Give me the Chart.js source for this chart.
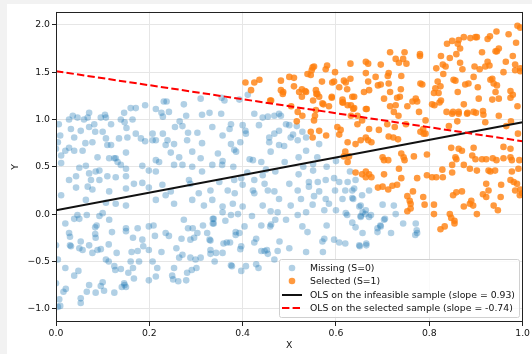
<!DOCTYPE html>
<html>
<head>
<meta charset="utf-8">
<script src="https://cdn.jsdelivr.net/npm/chart.js@4.4.0/dist/chart.umd.min.js"></script>
<style>
html, body { margin: 0; padding: 0; background: #f2f2f2; }
#wrap { position: absolute; left: 7px; top: 4px; width: 525px; height: 350px; background: #fff; }
</style>
</head>
<body>
<div id="wrap"><canvas id="chart" width="525" height="350"></canvas></div>
<script>
// values, [X, Y]
const missingPoints = [
	[0.006,0.95],[0.009,0.83],[0.004,0.76],[0.0,0.69],[0.011,0.62],[0.011,0.54],[0.028,1.0],[0.036,1.04],[0.046,1.02],[0.032,0.90],
	[0.039,0.81],[0.02,0.67],[0.028,0.70],[0.039,0.67],[0.057,0.67],[0.06,1.0],[0.071,1.07],[0.068,1.02],[0.053,0.88],[0.071,0.92],
	[0.082,0.95],[0.084,0.87],[0.063,0.75],[0.078,0.76],[0.096,1.02],[0.105,1.05],[0.107,1.02],[0.10,0.87],[0.107,0.80],[0.11,0.73],
	[0.118,0.73],[0.089,0.60],[0.114,0.59],[0.125,0.59],[0.132,0.55],[0.139,0.52],[0.118,0.95],[0.139,1.0],[0.135,0.80],[0.146,1.07],
	[0.147,0.97],[0.151,0.91],[0.153,0.81],[0.15,0.65],[0.16,1.12],[0.171,1.12],[0.164,1.0],[0.171,0.85],[0.182,0.80],[0.191,1.15],
	[0.191,0.77],[0.207,0.78],[0.214,0.78],[0.207,0.85],[0.214,1.11],[0.226,1.07],[0.231,1.19],[0.237,1.19],[0.229,1.03],[0.242,1.08],
	[0.229,0.85],[0.239,0.78],[0.235,0.73],[0.253,0.74],[0.274,1.16],[0.279,1.04],[0.265,0.98],[0.271,0.93],[0.255,0.92],[0.283,0.86],
	[0.281,0.78],[0.303,0.86],[0.31,1.22],[0.313,1.05],[0.329,1.07],[0.335,0.92],[0.313,0.75],[0.292,0.66],[0.246,0.65],[0.264,0.60],
	[0.214,0.57],[0.221,0.55],[0.185,0.51],[0.199,0.46],[0.214,0.45],[0.253,0.52],[0.271,0.52],[0.292,0.50],[0.313,0.45],[0.335,0.52],
	[0.31,0.59],[0.085,0.45],[0.093,0.46],[0.064,0.51],[0.05,0.49],[0.028,0.36],[0.043,0.40],[0.071,0.43],[0.075,0.36],[0.093,0.36],
	[0.11,0.40],[0.128,0.39],[0.15,0.48],[0.15,0.40],[0.167,0.32],[0.068,0.29],[0.078,0.26],[0.043,0.28],[0.011,0.20],[0.199,0.28],
	[0.15,0.27],[0.114,0.24],[0.064,0.15],[0.107,0.12],[0.128,0.11],[0.15,0.09],[0.214,0.15],[0.235,0.20],[0.246,0.24],[0.253,0.11],
	[0.285,0.36],[0.288,0.32],[0.306,0.22],[0.331,0.25],[0.335,0.15],[0.317,0.09],[0.292,0.15],[0.228,0.31],[0.185,0.33],[0.128,0.59],
	[0.393,1.21],[0.355,1.23],
	[0.02,-0.10],[0.039,-0.05],[0.05,-0.05],[0.046,-0.01],[0.066,-0.01],[0.093,-0.02],[0.10,0.01],[0.114,-0.06],[0.087,-0.12],[0.084,-0.14],
	[0.028,-0.20],[0.03,-0.24],[0.03,-0.33],[0.032,-0.34],[0.053,-0.29],[0.05,-0.36],[0.057,-0.38],[0.071,-0.33],[0.084,-0.21],[0.085,-0.25],
	[0.078,-0.41],[0.089,-0.38],[0.096,-0.37],[0.113,-0.32],[0.12,-0.19],[0.107,-0.48],[0.113,-0.50],[0.13,-0.41],[0.125,-0.55],[0.127,-0.59],
	[0.139,-0.58],[0.15,-0.15],[0.15,-0.18],[0.165,-0.25],[0.175,-0.15],[0.185,-0.27],[0.175,-0.39],[0.162,-0.40],[0.16,-0.50],[0.155,-0.62],
	[0.165,-0.57],[0.167,-0.68],[0.178,-0.50],[0.187,-0.34],[0.199,-0.38],[0.199,-0.13],[0.209,-0.12],[0.212,-0.23],[0.207,-0.50],[0.217,-0.57],
	[0.199,-0.70],[0.214,-0.66],[0.226,-0.40],[0.235,-0.20],[0.242,-0.23],[0.258,-0.36],[0.269,-0.26],[0.274,-0.06],[0.283,-0.15],[0.293,-0.15],
	[0.288,-0.27],[0.296,-0.25],[0.303,-0.20],[0.315,-0.12],[0.324,-0.20],[0.331,-0.28],[0.331,-0.38],[0.331,-0.42],[0.338,-0.05],[0.336,-0.10],
	[0.271,-0.43],[0.264,-0.46],[0.288,-0.46],[0.299,-0.48],[0.31,-0.46],[0.253,-0.57],[0.249,-0.65],[0.251,-0.69],[0.262,-0.71],[0.279,-0.70],
	[0.281,-0.62],[0.291,-0.59],[0.301,-0.57],[0.146,-0.73],[0.15,-0.77],[0.141,-0.77],[0.147,-0.75],[0.125,-0.83],[0.10,-0.72],[0.096,-0.76],
	[0.103,-0.81],[0.085,-0.83],[0.071,-0.75],[0.066,-0.82],[0.053,-0.89],[0.053,-0.94],[0.039,-0.65],[0.021,-0.79],[0.016,-0.82],[0.007,-0.90],
	[0.009,-0.97],[0.004,-0.98],[0.0,-0.73],[0.02,-0.57],[0.048,-0.60],[0.004,-0.48],[0.0,-0.33],
	[0.361,1.20],[0.411,1.26],[0.354,1.06],[0.375,0.95],[0.40,0.94],[0.406,0.88],[0.407,0.85],[0.425,1.06],[0.435,0.94],[0.443,1.02],
	[0.454,1.03],[0.468,1.04],[0.478,1.06],[0.482,1.04],[0.50,0.94],[0.468,0.85],[0.457,0.81],[0.478,0.88],[0.372,0.90],[0.357,0.83],
	[0.347,0.64],[0.357,0.56],[0.356,0.52],[0.35,0.34],[0.375,0.74],[0.382,0.68],[0.386,0.66],[0.395,0.76],[0.422,0.57],[0.415,0.58],
	[0.44,0.55],[0.46,0.66],[0.457,0.76],[0.478,0.73],[0.489,0.72],[0.493,0.95],[0.536,0.81],[0.536,0.67],[0.52,0.60],[0.551,0.53],
	[0.56,0.60],[0.516,0.93],[0.503,0.81],[0.443,0.41],[0.425,0.36],[0.397,0.38],[0.382,0.36],[0.368,0.25],[0.383,0.22],[0.40,0.31],
	[0.422,0.25],[0.425,0.22],[0.447,0.32],[0.454,0.25],[0.468,0.24],[0.478,0.16],[0.50,0.32],[0.518,0.25],[0.525,0.16],[0.542,0.34],
	[0.561,0.34],[0.551,0.46],[0.542,0.29],[0.564,0.24],[0.553,0.19],[0.578,0.16],[0.578,0.36],[0.596,0.38],[0.607,0.34],[0.598,0.25],
	[0.625,0.34],[0.62,0.25],[0.635,0.25],[0.637,0.16],[0.614,0.16],[0.642,0.36],[0.379,0.11],[0.357,0.08],[0.40,0.08],[0.443,0.09],
	[0.503,0.09],[0.585,0.11],[0.653,0.09],[0.656,0.20],[0.518,0.78],[0.564,0.74],[0.528,0.87],[0.508,0.84],
	[0.47,0.45],[0.52,0.42],[0.49,0.55],[0.58,0.50],[0.60,0.56],[0.53,0.50],[0.45,0.47],[0.38,0.50],[0.41,0.44],[0.63,0.45],
	[0.60,0.04],[0.55,0.10],[0.46,0.03],[0.39,0.0],
	[0.357,0.02],[0.336,-0.05],[0.338,-0.10],[0.363,-0.07],[0.375,-0.01],[0.329,-0.27],[0.343,-0.41],[0.34,-0.50],[0.357,-0.41],[0.359,-0.31],
	[0.366,-0.30],[0.373,-0.30],[0.385,-0.19],[0.385,-0.22],[0.393,-0.20],[0.397,-0.34],[0.395,-0.37],[0.404,-0.13],[0.42,-0.02],[0.425,-0.30],
	[0.429,-0.26],[0.44,-0.12],[0.44,-0.39],[0.447,-0.39],[0.454,-0.42],[0.452,-0.38],[0.459,-0.13],[0.461,-0.11],[0.47,-0.06],[0.475,0.02],
	[0.479,-0.29],[0.475,-0.39],[0.468,-0.48],[0.493,-0.06],[0.50,-0.36],[0.518,-0.01],[0.528,-0.13],[0.536,0.02],[0.539,-0.19],[0.536,-0.40],
	[0.575,0.04],[0.58,-0.12],[0.571,-0.29],[0.572,-0.40],[0.575,-0.26],[0.596,-0.27],[0.607,-0.30],[0.621,0.01],[0.624,-0.01],[0.62,-0.31],
	[0.635,-0.09],[0.642,-0.14],[0.65,-0.33],[0.653,-0.02],[0.664,0.04],[0.665,-0.33],[0.375,-0.54],[0.377,-0.55],[0.397,-0.60],[0.407,-0.55],
	[0.429,-0.53],[0.434,-0.57],
	[0.671,0.25],[0.663,0.0],[0.671,-0.03],[0.70,0.10],[0.705,-0.05],[0.724,0.09],[0.728,0.0],[0.689,-0.15],[0.695,-0.12],[0.744,-0.10],
	[0.771,-0.10],[0.773,-0.17],[0.774,-0.20],[0.77,-0.22],[0.718,-0.2],[0.696,-0.13],[0.689,-0.19],[0.665,-0.31],[0.651,-0.34],[0.657,-0.2],
	[0.703,-0.06],[0.657,0.02],[0.639,0.27],[0.635,0.17],[0.65,0.08],[0.675,-0.01],[0.653,-0.03]
]

const selectedPoints = [
	[0.461,1.20],[0.486,1.27],[0.504,1.14],[0.518,1.08],[0.528,1.04],[0.516,0.98],[0.521,1.29],[0.536,1.29],[0.56,1.27],[0.564,1.24],
	[0.573,1.16],[0.585,1.14],[0.591,1.23],[0.557,1.10],[0.555,1.04],[0.553,0.99],[0.546,0.87],[0.55,0.81],[0.564,0.88],[0.579,0.83],
	[0.603,0.92],[0.607,0.84],[0.61,0.89],[0.614,1.18],[0.625,1.15],[0.639,1.24],[0.637,1.11],[0.632,1.04],[0.646,1.04],[0.646,0.95],
	[0.656,0.99],[0.664,1.11],[0.625,0.76],[0.642,0.74],[0.653,0.78],[0.664,0.81],[0.62,0.66],[0.617,0.61],[0.628,0.61],[0.625,0.55],
	[0.642,0.44],[0.656,0.42],[0.664,0.39],[0.664,0.45],
	[0.406,1.39],[0.425,1.39],[0.436,1.42],[0.418,1.31],[0.459,1.20],[0.482,1.41],[0.482,1.31],[0.487,1.29],[0.50,1.45],[0.51,1.44],
	[0.51,1.35],[0.527,1.32],[0.534,1.30],[0.527,1.24],[0.539,1.48],[0.546,1.47],[0.55,1.55],[0.553,1.56],[0.548,1.52],[0.551,1.20],
	[0.557,1.31],[0.558,1.27],[0.57,1.40],[0.578,1.53],[0.581,1.57],[0.592,1.39],[0.596,1.40],[0.598,1.50],[0.607,1.34],[0.617,1.41],
	[0.621,1.39],[0.631,1.43],[0.631,1.59],[0.614,1.21],[0.615,1.18],[0.635,1.24],[0.632,1.15],[0.639,1.12],[0.591,1.24],[0.571,1.17],
	[0.624,1.32],
	[0.664,1.61],[0.669,1.59],[0.664,1.49],[0.669,1.40],[0.671,1.31],[0.66,1.29],[0.666,1.11],[0.685,1.45],[0.69,1.36],[0.696,1.37],
	[0.696,1.58],[0.713,1.49],[0.711,1.46],[0.716,1.71],[0.728,1.64],[0.735,1.60],[0.744,1.64],[0.747,1.71],[0.751,1.59],[0.74,1.46],
	[0.713,1.38],[0.716,1.29],[0.739,1.32],[0.731,1.23],[0.737,1.24],[0.703,1.22],[0.716,1.14],[0.728,1.15],[0.724,1.08],[0.753,1.14],
	[0.764,1.19],[0.771,1.22],[0.774,1.19],[0.778,1.08],[0.78,1.69],[0.78,1.67],[0.781,1.38],[0.785,1.37],[0.806,1.16],[0.811,1.15],
	[0.82,1.28],[0.824,1.35],[0.818,1.40],[0.815,1.54],[0.825,1.67],[0.829,1.58],[0.835,1.56],[0.83,1.48],[0.825,1.20],[0.822,1.18],
	[0.838,1.80],[0.844,1.65],[0.849,1.83],[0.852,1.42],[0.856,1.41],[0.858,1.69],[0.861,1.29],[0.863,1.84],[0.861,1.80],[0.866,1.75],
	[0.866,1.60],[0.871,1.53],[0.874,1.87],[0.877,1.37],[0.874,1.16],[0.884,1.38],[0.851,1.08],[0.837,1.08],[0.863,1.08],[0.888,1.86],
	[0.899,1.87],[0.902,1.87],[0.897,1.56],[0.895,1.45],[0.908,1.53],[0.913,1.71],[0.904,1.34],[0.906,1.22],[0.895,1.08],[0.915,1.09],
	[0.92,1.56],[0.925,1.61],[0.929,1.57],[0.925,1.85],[0.93,1.88],[0.931,1.42],[0.935,1.43],[0.938,1.38],[0.942,1.29],[0.945,1.36],
	[0.935,1.21],[0.949,1.22],[0.944,1.93],[0.945,1.72],[0.949,1.75],[0.942,1.72],[0.959,1.50],[0.964,1.61],[0.97,1.90],[0.974,1.23],
	[0.979,1.67],[0.979,1.26],[0.984,1.58],[0.984,1.52],[0.986,1.81],[0.989,1.99],[0.995,1.97],[0.995,1.54],[0.995,1.51],[0.989,1.14],
	[0.974,1.30],[0.949,1.04],[0.916,1.05],[0.882,1.07],[0.81,1.28],[0.813,1.33],
	[0.849,1.06],[0.863,1.06],[0.842,0.93],[0.881,1.06],[0.9,1.07],[0.92,0.97],[0.86,0.98],[0.792,0.99],[0.788,0.85],[0.734,1.04],
	[0.965,0.93],[0.99,0.85],[0.975,0.98],[0.71,0.95],[0.75,0.95],
	[0.671,0.90],[0.692,0.89],[0.669,0.78],[0.676,0.76],[0.713,0.82],[0.723,0.81],[0.733,0.79],[0.726,0.92],[0.70,0.60],[0.712,0.57],
	[0.703,0.57],[0.74,0.64],[0.745,0.60],[0.747,0.57],[0.735,0.48],[0.767,0.61],[0.781,0.87],[0.792,0.85],[0.787,0.90],[0.795,0.63],
	[0.774,0.38],[0.795,0.41],[0.806,0.39],[0.815,0.39],[0.828,0.47],[0.829,0.39],[0.849,0.44],[0.847,0.70],[0.863,0.69],[0.87,0.67],
	[0.856,0.60],[0.858,0.58],[0.874,0.52],[0.887,0.48],[0.895,0.70],[0.892,0.62],[0.899,0.58],[0.902,0.46],[0.913,0.58],[0.922,0.58],
	[0.936,0.59],[0.944,0.57],[0.927,0.46],[0.931,0.45],[0.941,0.46],[0.974,0.69],[0.974,0.60],[0.959,0.59],[0.977,0.57],[0.993,0.57],
	[0.991,0.48],[0.977,0.45],[0.974,0.36],[0.981,0.34],[0.988,0.32],[0.984,0.25],[0.995,0.26],[0.999,0.22],[0.994,0.20],[0.954,0.31],
	[0.922,0.32],[0.927,0.25],[0.915,0.21],[0.922,0.18],[0.938,0.09],[0.947,0.04],[0.89,0.14],[0.887,0.11],[0.894,0.09],[0.874,0.08],
	[0.902,0.00],[0.858,0.23],[0.851,0.20],[0.87,0.24],[0.844,0.00],[0.847,-0.04],[0.854,-0.07],[0.854,-0.10],[0.833,-0.13],[0.824,-0.16],
	[0.81,0.10],[0.81,0.00],[0.79,0.10],[0.765,0.24],[0.753,0.19],[0.758,0.14],[0.76,0.11],[0.76,0.06],[0.753,0.03],[0.787,0.18],
	[0.731,0.31],[0.721,0.30],[0.712,0.26],[0.70,0.29],[0.69,0.28],[0.703,0.42],[0.671,0.42],[0.676,0.39],[0.74,0.38],[0.849,0.52],
	[0.953,0.18],[0.959,0.71]
]

const lineX = [0, 1]
const infeasibleFit = [0.04, 0.97]
const selectedFit = [1.51, 0.77]

const xTicks = [0, 0.2, 0.4, 0.6, 0.8, 1.0]
const yTicks = [-1.0, -0.5, 0.0, 0.5, 1.0, 1.5, 2.0]

const seriesNames = [
	'Missing (S=0)',
	'Selected (S=1)',
	'OLS on the infeasible sample (slope = 0.93)',
	'OLS on the selected sample (slope = -0.74)'
]

const BLUE = 'rgba(31, 119, 180, 0.35)'
const ORANGE = 'rgba(255, 127, 14, 0.8)'
const FONT = '"DejaVu Sans", sans-serif'
const FS = 9.3

const toXY = pts => pts.map(p => ({x: p[0], y: p[1]}))
const fitXY = ys => lineX.map((x, i) => ({x: x, y: ys[i]}))
const fmt = v => v.toFixed(1).replace('-', '\u2212')

const frame = {
	id: 'frame',
	afterDatasetsDraw(chart) {
		const {ctx, chartArea: a} = chart
		ctx.save()
		ctx.strokeStyle = '#222'
		ctx.lineWidth = 1
		ctx.strokeRect(Math.round(a.left) + 0.5, Math.round(a.top) + 0.5, Math.round(a.right - a.left) - 1, Math.round(a.bottom - a.top) - 1)
		ctx.restore()
	}
}

const legendBox = {
	id: 'legendBox',
	afterDraw(chart) {
		const {ctx, chartArea: a} = chart
		ctx.save()
		ctx.font = FS + 'px ' + FONT
		const textW = Math.max(...seriesNames.map(t => ctx.measureText(t).width))
		const w = Math.round(31 + textW + 4)
		const h = 58
		const x = Math.round(a.right - 4 - w)
		const y = Math.round(a.bottom - 5 - h)
		ctx.fillStyle = 'rgba(255,255,255,0.8)'
		ctx.strokeStyle = '#d0d0d0'
		ctx.lineWidth = 1
		ctx.beginPath()
		ctx.roundRect(x + 0.5, y + 0.5, w, h, 2)
		ctx.fill()
		ctx.stroke()

		const rows = [9, 22, 36, 49]
		ctx.fillStyle = BLUE
		ctx.beginPath(); ctx.arc(x + 13, y + rows[0], 3.3, 0, Math.PI * 2); ctx.fill()
		ctx.fillStyle = ORANGE
		ctx.beginPath(); ctx.arc(x + 13, y + rows[1], 3.3, 0, Math.PI * 2); ctx.fill()

		ctx.lineWidth = 2
		ctx.strokeStyle = '#111'
		ctx.beginPath(); ctx.moveTo(x + 3, y + rows[2]); ctx.lineTo(x + 23, y + rows[2]); ctx.stroke()
		ctx.strokeStyle = '#ff0000'
		ctx.setLineDash([7.4, 3.2])
		ctx.beginPath(); ctx.moveTo(x + 3, y + rows[3]); ctx.lineTo(x + 23, y + rows[3]); ctx.stroke()
		ctx.setLineDash([])

		ctx.fillStyle = '#111'
		ctx.textBaseline = 'middle'
		seriesNames.forEach((t, i) => ctx.fillText(t, x + 31, y + rows[i] + 0.5))
		ctx.restore()
	}
}

Chart.defaults.font.family = FONT
Chart.defaults.font.size = FS
Chart.defaults.color = '#111'

new Chart(document.getElementById('chart'), {
	type: 'scatter',
	data: {
		datasets: [
			{
				label: seriesNames[3],
				data: fitXY(selectedFit),
				showLine: true,
				borderColor: '#ff0000',
				borderWidth: 2,
				borderDash: [7.4, 3.2],
				pointRadius: 0,
				order: 0
			},
			{
				label: seriesNames[2],
				data: fitXY(infeasibleFit),
				showLine: true,
				borderColor: '#111',
				borderWidth: 2,
				pointRadius: 0,
				order: 1
			},
			{
				label: seriesNames[1],
				data: toXY(selectedPoints),
				backgroundColor: ORANGE,
				borderWidth: 0,
				pointRadius: 3.3,
				order: 2
			},
			{
				label: seriesNames[0],
				data: toXY(missingPoints),
				backgroundColor: BLUE,
				borderWidth: 0,
				pointRadius: 3.3,
				order: 3
			}
		]
	},
	options: {
		responsive: false,
		animation: false,
		devicePixelRatio: 1,
		layout: {padding: {top: 7, right: 8, bottom: 0, left: 0}},
		plugins: {
			legend: {display: false},
			tooltip: {enabled: false}
		},
		scales: {
			x: {
				type: 'linear',
				min: 0,
				max: 1,
				afterBuildTicks: s => { s.ticks = xTicks.map(v => ({value: v})) },
				afterFit: s => { s.height = 32 },
				ticks: {callback: v => fmt(v), padding: 2, maxRotation: 0, autoSkip: false, color: '#111'},
				grid: {color: '#e6e6e6', lineWidth: 1, tickColor: '#222', tickLength: 4, tickWidth: 1},
				border: {display: false},
				title: {display: true, text: 'X', color: '#111', padding: {top: 0, bottom: 3}}
			},
			y: {
				type: 'linear',
				min: -1.14,
				max: 2.14,
				afterBuildTicks: s => { s.ticks = yTicks.map(v => ({value: v})) },
				afterFit: s => { s.width = 49 },
				ticks: {callback: v => fmt(v), padding: 2, autoSkip: false, color: '#111'},
				grid: {color: '#e6e6e6', lineWidth: 1, tickColor: '#222', tickLength: 4, tickWidth: 1},
				border: {display: false},
				title: {display: true, text: 'Y', color: '#111', padding: {top: 3, bottom: 0}}
			}
		}
	},
	plugins: [frame, legendBox]
})
</script>
</body>
</html>
